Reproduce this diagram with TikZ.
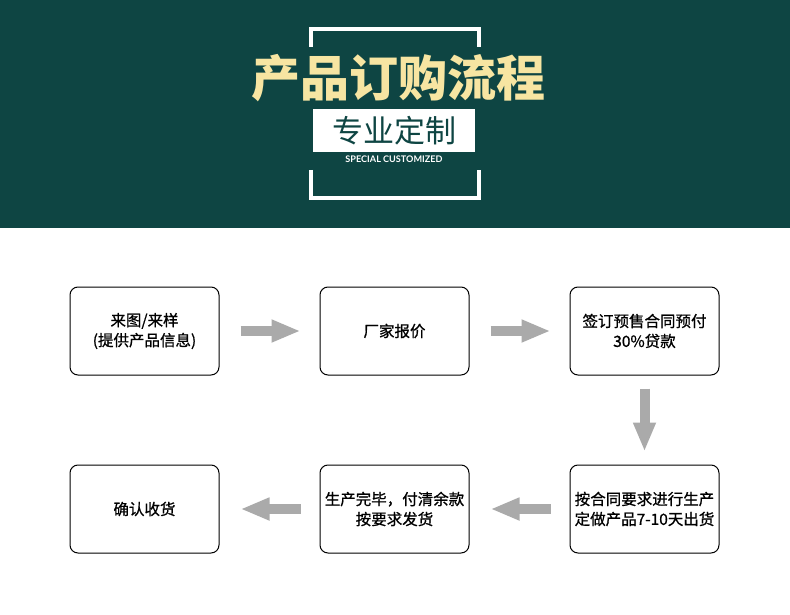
\documentclass[tikz,border=0pt]{standalone}
\usepackage{fontspec}
\newfontfamily\cjk{Noto Sans CJK SC}
\newfontfamily\cjkstep[FakeBold=0.9]{Noto Sans CJK SC}
\newfontfamily\latin{Lato}
\usetikzlibrary{arrows.meta}
\definecolor{headteal}{RGB}{14,69,67}
\definecolor{titlecream}{RGB}{247,229,162}
\definecolor{flowgray}{RGB}{170,170,170}
\tikzset{stepbox/.style={draw,rounded corners=8pt,line width=1pt,minimum width=149pt,minimum height=88pt,
    align=center,inner sep=0pt,font=\cjkstep\fontsize{15.5}{20}\selectfont},
  flow/.style={flowgray,line width=10pt,-{Triangle[length=29pt,width=21pt]}},
  frameline/.style={white,line width=4pt}}

\begin{document}
\begin{tikzpicture}[x=1pt,y=-1pt]
  \path[use as bounding box] (0,0) rectangle (790,615);
  % header band
  \fill[headteal] (0,0) rectangle (790,228);
  \draw[frameline] (310.5,47) -- (310.5,29.5) -- (478.5,29.5) -- (478.5,47);
  \draw[frameline] (310.5,170) -- (310.5,198) -- (478.5,198) -- (478.5,170);
  \node[text=titlecream,font=\cjk\bfseries\fontsize{49}{49}\selectfont] (title) at (398,78) {产品订购流程};
  \node[fill=white,text=headteal,minimum width=162pt,minimum height=43pt,
    font=\cjk\fontsize{31}{31}\selectfont] (sub) at (394,130.5) {专业定制};
  \node[text=white,font=\latin\bfseries\fontsize{9.1}{9}\selectfont] (eng) at (394,159) {SPECIAL CUSTOMIZED};
  % steps
  \node[stepbox] (s1) at (144.5,331) {来图/来样\\(提供产品信息)};
  \node[stepbox] (s2) at (394.5,331) {厂家报价};
  \node[stepbox] (s3) at (644.5,331) {签订预售合同预付\\30\%贷款};
  \node[stepbox] (s4) at (144.5,509) {确认收货};
  \node[stepbox] (s5) at (394.5,509) {生产完毕，付清余款\\按要求发货};
  \node[stepbox] (s6) at (644.5,509) {按合同要求进行生产\\定做产品7-10天出货};
  % arrows
  \draw[flow,shorten <=21pt,shorten >=19pt] (s1.east) -- (s2.west);
  \draw[flow,shorten <=21pt,shorten >=19pt] (s2.east) -- (s3.west);
  \draw[flow,shorten <=13pt,shorten >=13pt] (s3.south) -- (s6.north);
  \draw[flow,shorten <=19pt,shorten >=21pt] (s6.west) -- (s5.east);
  \draw[flow,shorten <=19pt,shorten >=21pt] (s5.west) -- (s4.east);
\end{tikzpicture}
\end{document}
